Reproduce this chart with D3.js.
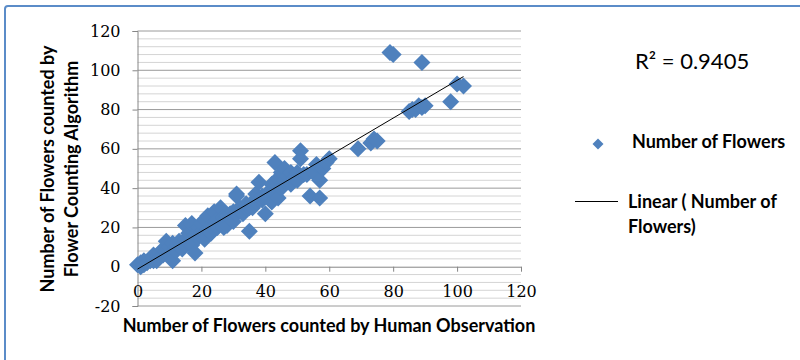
<!DOCTYPE html>
<html>
<head>
<meta charset="utf-8">
<script src="https://cdn.jsdelivr.net/npm/d3@7"></script>
<style>
  body { margin: 0; background: #fff; }
  svg { display: block; }
</style>
</head>
<body>
<div id="chart"></div>
<script>
// human observation (x) vs algorithm count (y)
const humanCounts = [
  0, 1, 1, 2, 2, 3, 4, 4, 5, 5, 6, 6, 7, 7, 8, 8, 9, 9, 10, 10, 11, 11, 12, 12, 13, 14, 14, 15, 15, 16, 16,
  17, 17, 18, 18, 19, 19, 20, 20, 21, 21, 22, 22, 23, 23, 24, 24, 25, 25, 26, 26, 27, 27, 28, 28, 29, 29, 30, 30,
  31, 31, 31, 32, 32, 33, 33, 34, 34, 35, 35, 36, 36, 37, 37, 38, 38, 39, 39, 40, 40, 41, 41, 42, 42, 43, 43, 44, 44, 45, 45,
  46, 46, 47, 48, 48, 49, 50, 50, 51, 51, 52, 53, 54, 55, 56, 57, 57, 58, 59, 60,
  69, 73, 74, 75, 79, 80, 85, 86, 87, 88, 89, 90, 89, 98, 100, 102
];
const algorithmCounts = [
  1, 0, 2, 1, 3, 2, 4, 3, 3, 6, 5, 3, 7, 5, 6, 9, 8, 13, 10, 6, 3, 12, 10, 8, 13, 11, 9, 14, 21, 12, 17,
  22, 11, 7, 16, 15, 20, 18, 22, 14, 24, 19, 26, 17, 21, 23, 28, 20, 24, 30, 22, 25, 20, 26, 21, 24, 27, 23, 28,
  37, 36, 27, 29, 30, 28, 27, 30, 32, 18, 30, 30, 33, 33, 37, 34, 43, 34, 36, 27, 36, 38, 35, 42, 33, 53, 37, 45, 35, 40, 48,
  44, 50, 46, 42, 48, 45, 48, 44, 59, 55, 47, 47, 36, 48, 52, 35, 44, 50, 53, 55,
  60, 63, 65, 64, 109, 108, 79, 80, 80, 82, 81, 82, 104, 84, 93, 92
];

const xTicks = [0, 20, 40, 60, 80, 100, 120];
const yTicks = [-20, 0, 20, 40, 60, 80, 100, 120];
const yMinorStep = 4;

const xTitle = "Number of Flowers counted by Human Observation";
const yTitleLines = ["Number of Flowers counted by", "Flower Counting Algorithm"];
const rSquaredText = "R² = 0.9405";
const seriesLabel = "Number of Flowers";
const trendLabelLines = ["Linear ( Number of", "Flowers)"];

const width = 800, height = 360;
const blue = "#4f81bd";
const titleFont = "Lato, 'Liberation Sans', sans-serif";
const tickFont = "'DejaVu Serif', serif";

const svg = d3.select("#chart").append("svg")
  .attr("width", width)
  .attr("height", height);

// frame (only top and left edges fall inside the picture)
svg.append("rect")
  .attr("x", 5).attr("y", 6)
  .attr("width", 900).attr("height", 500)
  .attr("rx", 3)
  .attr("fill", "#fff")
  .attr("stroke", "#5b8cc8")
  .attr("stroke-width", 2);

const x = d3.scaleLinear().domain([0, 120]).range([137.5, 521]);
const y = d3.scaleLinear().domain([-20, 120]).range([306, 31]);

// gridlines
const minorVals = d3.range(-20, 120 + 0.01, yMinorStep).filter(v => v % 20 !== 0);
svg.append("g").selectAll("line")
  .data(minorVals).enter().append("line")
  .attr("x1", x(0)).attr("x2", x(120))
  .attr("y1", d => y(d)).attr("y2", d => y(d))
  .attr("stroke", "#d4d4d4").attr("stroke-width", 1);

svg.append("g").selectAll("line")
  .data(yTicks.filter(v => v !== 0)).enter().append("line")
  .attr("x1", x(0)).attr("x2", x(120))
  .attr("y1", d => y(d)).attr("y2", d => y(d))
  .attr("stroke", "#9a9a9a").attr("stroke-width", 1);

// y axis
const yAxis = svg.append("g")
  .attr("transform", "translate(" + x(0) + ",0)")
  .call(d3.axisLeft(y).tickValues(yTicks).tickSize(5).tickPadding(12).tickFormat(d => String(d)));

// x axis on the zero line
const xAxis = svg.append("g")
  .attr("transform", "translate(0," + y(0) + ")")
  .call(d3.axisBottom(x).tickValues(xTicks).tickSize(5).tickSizeOuter(0).tickPadding(14).tickFormat(d => String(d)));

[yAxis, xAxis].forEach(g => {
  g.select(".domain").attr("stroke", "#868686");
  g.selectAll(".tick line").attr("stroke", "#868686");
  g.selectAll("text")
    .attr("fill", "#000")
    .style("font-family", tickFont)
    .style("font-size", "16px");
});

// points
const pts = humanCounts.map((h, i) => ({ h: h, a: algorithmCounts[i] }));
const r = 8.5;
const diamond = "M0," + (-r) + "L" + r + ",0L0," + r + "L" + (-r) + ",0Z";

svg.append("g").selectAll("path")
  .data(pts).enter().append("path")
  .attr("d", diamond)
  .attr("transform", d => "translate(" + x(d.h) + "," + y(d.a) + ")")
  .attr("fill", blue);

// linear trendline (least squares over the points)
const mx = d3.mean(humanCounts), my = d3.mean(algorithmCounts);
let sxy = 0, sxx = 0;
pts.forEach(d => { sxy += (d.h - mx) * (d.a - my); sxx += (d.h - mx) * (d.h - mx); });
const slope = sxy / sxx, intercept = my - slope * mx;
const xExt = d3.extent(humanCounts);

svg.append("line")
  .attr("x1", x(xExt[0])).attr("y1", y(intercept + slope * xExt[0]))
  .attr("x2", x(xExt[1])).attr("y2", y(intercept + slope * xExt[1]))
  .attr("stroke", "#000").attr("stroke-width", 1);

// axis titles
svg.append("text")
  .attr("x", 329).attr("y", 332)
  .attr("text-anchor", "middle")
  .style("font-family", titleFont).style("font-weight", "bold").style("font-size", "18px")
  .text(xTitle);

svg.append("g")
  .attr("transform", "translate(0,169) rotate(-90)")
  .selectAll("text")
  .data(yTitleLines).enter().append("text")
  .attr("x", 0)
  .attr("y", (d, i) => 54 + i * 24)
  .attr("text-anchor", "middle")
  .style("font-family", titleFont).style("font-weight", "bold").style("font-size", "18px")
  .text(d => d);

// R squared
svg.append("text")
  .attr("x", 635).attr("y", 69)
  .style("font-family", titleFont).style("font-size", "22px")
  .text(rSquaredText);

// legend
svg.append("path")
  .attr("d", "M0,-5.5L5.5,0L0,5.5L-5.5,0Z")
  .attr("transform", "translate(598,144)")
  .attr("fill", blue);
svg.append("text")
  .attr("x", 632).attr("y", 148)
  .style("font-family", titleFont).style("font-weight", "bold").style("font-size", "18px")
  .text(seriesLabel);

svg.append("line")
  .attr("x1", 575).attr("x2", 618)
  .attr("y1", 201.5).attr("y2", 201.5)
  .attr("stroke", "#000").attr("stroke-width", 1);
svg.append("g").selectAll("text")
  .data(trendLabelLines).enter().append("text")
  .attr("x", 628)
  .attr("y", (d, i) => 208 + i * 25)
  .style("font-family", titleFont).style("font-weight", "bold").style("font-size", "18px")
  .text(d => d);
</script>
</body>
</html>
